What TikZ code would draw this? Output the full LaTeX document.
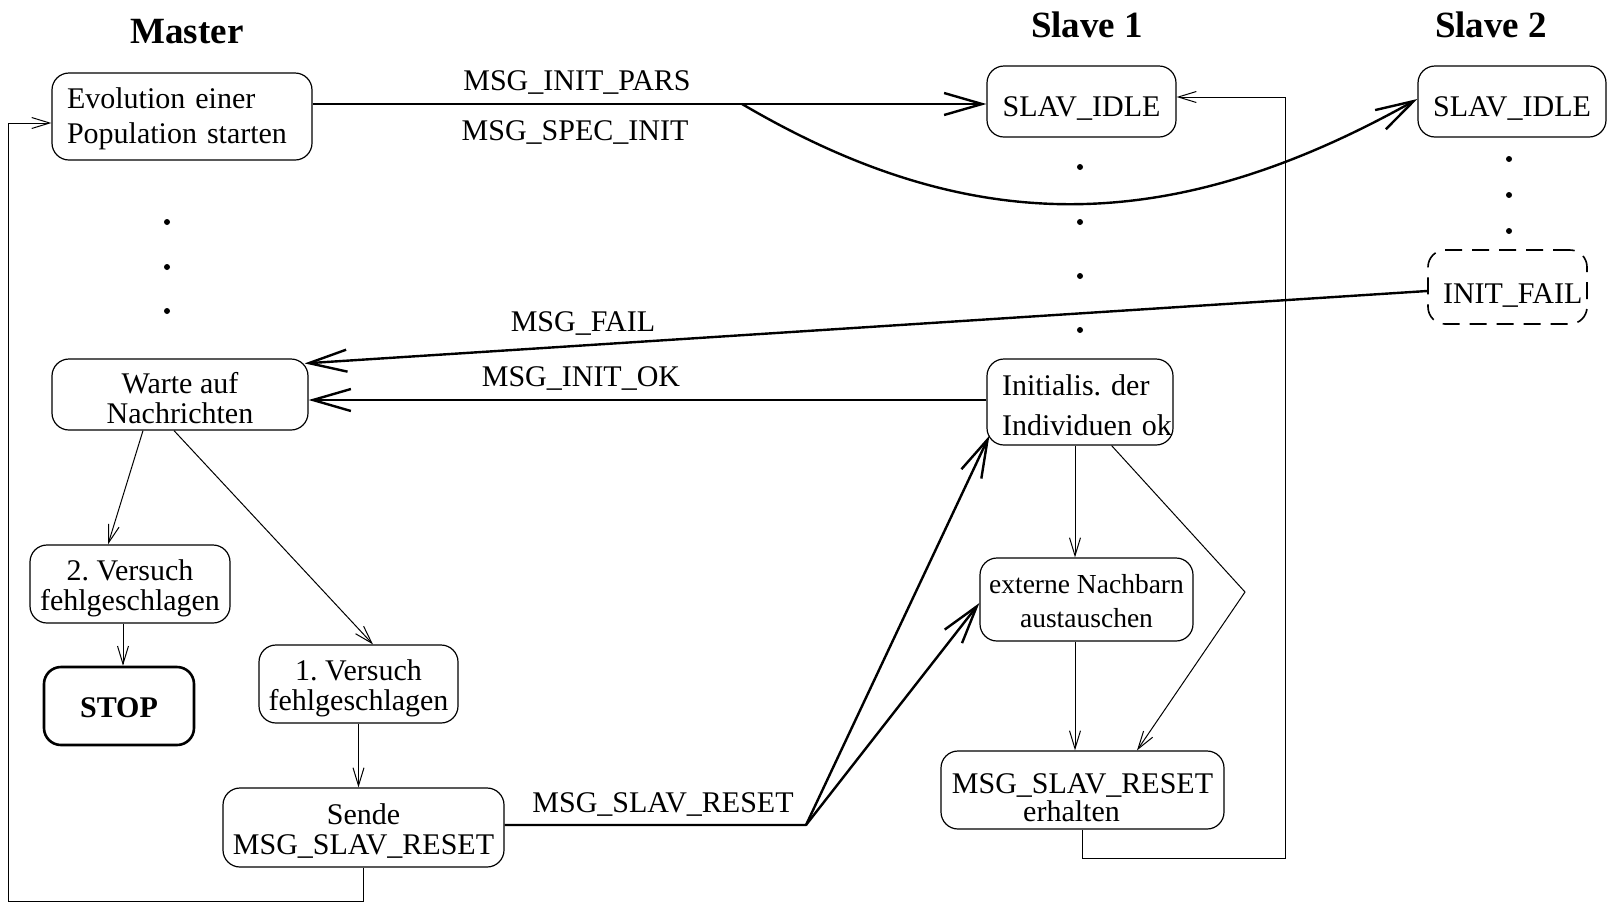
\documentclass[tikz,border=0pt]{standalone}
\usepackage{fontspec}
\setmainfont{Liberation Serif}
\usetikzlibrary{arrows.meta}
\frenchspacing
\begin{document}
\begin{tikzpicture}[x=1pt,y=-1pt,
  every node/.style={font=\fontsize{30pt}{30pt}\selectfont},
  stbox/.style={draw,line width=1.2pt,rounded corners=17pt,inner sep=0pt,align=center},
  title/.style={anchor=base,inner sep=0pt,font=\fontsize{37pt}{37pt}\selectfont\bfseries},
  msglabel/.style={anchor=base,inner sep=0pt},
  msg/.style={line width=2.4pt,-{Straight Barb[length=38pt,width=22pt]}},
  flow/.style={line width=1pt,-{Straight Barb[length=18pt,width=11pt]}}
]
\useasboundingbox (0,0) rectangle (1616,903);

% column titles
\node[title] (tmaster) at (187,43.5) {Master};
\node[title] (tslave1) at (1087,37.5) {Slave 1};
\node[title] (tslave2) at (1491,37.5) {Slave 2};

% master states
\node[stbox,text width=230pt,inner xsep=15pt,align=left,text height=35pt,text depth=52pt] (evo) at (182,116.5)
  {Evolution einer\\[5pt]Population starten};
\node[stbox,minimum width=256pt,text height=64pt,text depth=7pt] (warte) at (180,394.5) {Warte auf\\Nachrichten};
\node[stbox,minimum width=200pt,text height=65pt,text depth=13pt] (v2) at (130,584) {2. Versuch\\fehlgeschlagen};
\node[stbox,line width=2.6pt,minimum width=150pt,text height=50pt,text depth=28pt,
  font=\fontsize{30pt}{30pt}\selectfont\bfseries] (stop) at (119,706) {STOP};
\node[stbox,minimum width=199pt,text height=65pt,text depth=13pt] (v1) at (358.5,684) {1. Versuch\\fehlgeschlagen};
\node[stbox,minimum width=281pt,text height=66.5pt,text depth=12.5pt] (sende) at (363.5,827.5) {Sende\\MSG\_SLAV\_RESET};

% slave 1 states
\node[stbox,minimum width=189pt,text height=50pt,text depth=21pt] (idle1) at (1081.5,101.5) {SLAV\_IDLE};
\node[stbox,text width=156pt,inner xsep=15pt,align=left,text height=36pt,text depth=50pt] (init) at (1080,402)
  {Initialis. der\\[10pt]Individuen~ok};
\node[stbox,minimum width=213pt,text height=69pt,text depth=14pt,
  font=\fontsize{27.5pt}{27.5pt}\selectfont] (ext) at (1086.5,599.5) {externe Nachbarn\\[6.5pt]austauschen};
\node[stbox,minimum width=283pt,text height=70pt,text depth=8pt] (erh) at (1082.5,790)
  {MSG\_SLAV\_RESET\\[-2pt]erhalten\hspace*{22pt}};

% slave 2 states
\node[stbox,minimum width=188pt,text height=50pt,text depth=21pt] (idle2) at (1512,101.5) {SLAV\_IDLE};
\node[stbox,dash pattern=on 17pt off 10pt,line width=1.6pt,text width=129pt,inner xsep=15pt,
  align=left,text height=53pt,text depth=21pt] (fail) at (1507.5,287) {INIT\_FAIL};

% omitted intermediate steps
\foreach \yy in {222,267,311} \fill (167,\yy) circle (3pt);
\foreach \yy in {167,222,276,330} \fill (1080,\yy) circle (3pt);
\foreach \yy in {159,195,231} \fill (1509,\yy) circle (3pt);

% messages
\draw[msg] (evo.east |- 0,104) -- (idle1.west |- 0,104);
\coordinate (split) at (742,104);
\draw[msg] (split) .. controls (970,238) and (1169,238) .. (idle2.west |- 0,99);
\node[msglabel] (lpars) at (577,90.5) {MSG\_INIT\_PARS};
\node[msglabel] (lspec) at (575,140) {MSG\_SPEC\_INIT};

\draw[msg] ([yshift=-4pt]fail.west) -- ([xshift=-4pt,yshift=-5pt]warte.north east);
\node[msglabel] (lfail) at (583,331.5) {MSG\_FAIL};

\draw[msg] (init.west |- 0,400) -- (warte.east |- 0,400);
\node[msglabel] (lok) at (581,386) {MSG\_INIT\_OK};

\coordinate (fork) at (806,825);
\draw[msg,line join=round] (sende.east |- fork) -- (fork) -- ([xshift=3pt,yshift=10pt]init.south west);
\draw[msg] (fork) -- ([yshift=-3.5pt]ext.west);
\node[msglabel] (lreset) at (663,812) {MSG\_SLAV\_RESET};

% master transitions
\draw[flow] ([xshift=-37pt]warte.south) -- ([xshift=-22pt]v2.north);
\draw[flow] ([xshift=-6pt]warte.south) -- ([xshift=14.5pt]v1.north);
\draw[flow] ([xshift=-7pt]v2.south) -- ([xshift=-7pt]v2.south |- stop.north);
\draw[flow] (v1.south) -- (v1.south |- sende.north);
\coordinate (loopL) at (8,901);
\draw[flow] (sende.south) |- (loopL) |- (evo.west |- 0,123);

% slave 1 transitions
\draw[flow] ([xshift=-5pt]init.south) -- ([xshift=-5pt]init.south |- ext.north);
\draw[flow] ([xshift=-11.5pt]ext.south) -- ([xshift=-11.5pt]ext.south |- erh.north);
\coordinate (bend) at (1245,592);
\draw[flow] ([xshift=-62pt]init.south east) -- (bend) -- ([xshift=54.5pt]erh.north);
\coordinate (loopR) at (1285,858);
\draw[flow] (erh.south) |- (loopR) |- (idle1.east |- 0,97);
\end{tikzpicture}
\end{document}
